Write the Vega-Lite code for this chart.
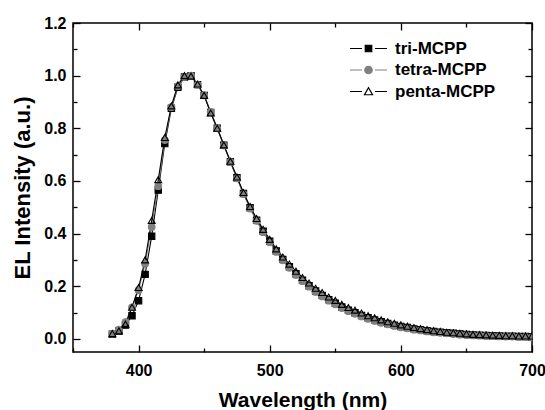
{
  "$schema": "https://vega.github.io/schema/vega-lite/v6.json",
  "width": 459,
  "height": 329,
  "autosize": {"type": "none"},
  "padding": {"left": 73, "top": 23, "right": 13, "bottom": 58},
  "config": {
    "view": {"stroke": "black", "strokeWidth": 1.5},
    "font": "Liberation Sans",
    "axis": {
      "domain": false, "grid": false,
      "labelFont": "Liberation Sans", "labelFontWeight": "bold", "labelFontSize": 16, "labelColor": "black",
      "titleFont": "Liberation Sans", "titleFontWeight": "bold", "titleColor": "black",
      "tickColor": "black", "tickWidth": 1.3
    }
  },
  "data": {"values": [
    {"w":380,"s":"tri-MCPP","v":0.018},{"w":385,"s":"tri-MCPP","v":0.03},{"w":390,"s":"tri-MCPP","v":0.052},{"w":395,"s":"tri-MCPP","v":0.088},{"w":400,"s":"tri-MCPP","v":0.145},{"w":405,"s":"tri-MCPP","v":0.245},{"w":410,"s":"tri-MCPP","v":0.39},{"w":415,"s":"tri-MCPP","v":0.565},{"w":420,"s":"tri-MCPP","v":0.742},{"w":425,"s":"tri-MCPP","v":0.876},{"w":430,"s":"tri-MCPP","v":0.956},{"w":435,"s":"tri-MCPP","v":0.995},{"w":440,"s":"tri-MCPP","v":1.0},{"w":445,"s":"tri-MCPP","v":0.966},{"w":450,"s":"tri-MCPP","v":0.925},{"w":455,"s":"tri-MCPP","v":0.86},{"w":460,"s":"tri-MCPP","v":0.8},{"w":465,"s":"tri-MCPP","v":0.736},{"w":470,"s":"tri-MCPP","v":0.673},{"w":475,"s":"tri-MCPP","v":0.612},{"w":480,"s":"tri-MCPP","v":0.552},{"w":485,"s":"tri-MCPP","v":0.498},{"w":490,"s":"tri-MCPP","v":0.451},{"w":495,"s":"tri-MCPP","v":0.409},{"w":500,"s":"tri-MCPP","v":0.371},{"w":505,"s":"tri-MCPP","v":0.334},{"w":510,"s":"tri-MCPP","v":0.302},{"w":515,"s":"tri-MCPP","v":0.274},{"w":520,"s":"tri-MCPP","v":0.247},{"w":525,"s":"tri-MCPP","v":0.223},{"w":530,"s":"tri-MCPP","v":0.202},{"w":535,"s":"tri-MCPP","v":0.182},{"w":540,"s":"tri-MCPP","v":0.165},{"w":545,"s":"tri-MCPP","v":0.149},{"w":550,"s":"tri-MCPP","v":0.135},{"w":555,"s":"tri-MCPP","v":0.121},{"w":560,"s":"tri-MCPP","v":0.109},{"w":565,"s":"tri-MCPP","v":0.099},{"w":570,"s":"tri-MCPP","v":0.089},{"w":575,"s":"tri-MCPP","v":0.08},{"w":580,"s":"tri-MCPP","v":0.072},{"w":585,"s":"tri-MCPP","v":0.065},{"w":590,"s":"tri-MCPP","v":0.058},{"w":595,"s":"tri-MCPP","v":0.052},{"w":600,"s":"tri-MCPP","v":0.047},{"w":605,"s":"tri-MCPP","v":0.043},{"w":610,"s":"tri-MCPP","v":0.038},{"w":615,"s":"tri-MCPP","v":0.035},{"w":620,"s":"tri-MCPP","v":0.031},{"w":625,"s":"tri-MCPP","v":0.028},{"w":630,"s":"tri-MCPP","v":0.025},{"w":635,"s":"tri-MCPP","v":0.023},{"w":640,"s":"tri-MCPP","v":0.021},{"w":645,"s":"tri-MCPP","v":0.019},{"w":650,"s":"tri-MCPP","v":0.017},{"w":655,"s":"tri-MCPP","v":0.015},{"w":660,"s":"tri-MCPP","v":0.014},{"w":665,"s":"tri-MCPP","v":0.013},{"w":670,"s":"tri-MCPP","v":0.012},{"w":675,"s":"tri-MCPP","v":0.011},{"w":680,"s":"tri-MCPP","v":0.01},{"w":685,"s":"tri-MCPP","v":0.01},{"w":690,"s":"tri-MCPP","v":0.009},{"w":695,"s":"tri-MCPP","v":0.009},{"w":700,"s":"tri-MCPP","v":0.008},
    {"w":380,"s":"tetra-MCPP","v":0.02},{"w":385,"s":"tetra-MCPP","v":0.035},{"w":390,"s":"tetra-MCPP","v":0.064},{"w":395,"s":"tetra-MCPP","v":0.12},{"w":400,"s":"tetra-MCPP","v":0.185},{"w":405,"s":"tetra-MCPP","v":0.285},{"w":410,"s":"tetra-MCPP","v":0.425},{"w":415,"s":"tetra-MCPP","v":0.58},{"w":420,"s":"tetra-MCPP","v":0.755},{"w":425,"s":"tetra-MCPP","v":0.88},{"w":430,"s":"tetra-MCPP","v":0.96},{"w":435,"s":"tetra-MCPP","v":0.995},{"w":440,"s":"tetra-MCPP","v":1.0},{"w":445,"s":"tetra-MCPP","v":0.965},{"w":450,"s":"tetra-MCPP","v":0.925},{"w":455,"s":"tetra-MCPP","v":0.862},{"w":460,"s":"tetra-MCPP","v":0.8},{"w":465,"s":"tetra-MCPP","v":0.735},{"w":470,"s":"tetra-MCPP","v":0.672},{"w":475,"s":"tetra-MCPP","v":0.61},{"w":480,"s":"tetra-MCPP","v":0.55},{"w":485,"s":"tetra-MCPP","v":0.495},{"w":490,"s":"tetra-MCPP","v":0.448},{"w":495,"s":"tetra-MCPP","v":0.405},{"w":500,"s":"tetra-MCPP","v":0.367},{"w":505,"s":"tetra-MCPP","v":0.33},{"w":510,"s":"tetra-MCPP","v":0.298},{"w":515,"s":"tetra-MCPP","v":0.27},{"w":520,"s":"tetra-MCPP","v":0.243},{"w":525,"s":"tetra-MCPP","v":0.219},{"w":530,"s":"tetra-MCPP","v":0.198},{"w":535,"s":"tetra-MCPP","v":0.178},{"w":540,"s":"tetra-MCPP","v":0.161},{"w":545,"s":"tetra-MCPP","v":0.145},{"w":550,"s":"tetra-MCPP","v":0.131},{"w":555,"s":"tetra-MCPP","v":0.117},{"w":560,"s":"tetra-MCPP","v":0.105},{"w":565,"s":"tetra-MCPP","v":0.095},{"w":570,"s":"tetra-MCPP","v":0.085},{"w":575,"s":"tetra-MCPP","v":0.076},{"w":580,"s":"tetra-MCPP","v":0.068},{"w":585,"s":"tetra-MCPP","v":0.061},{"w":590,"s":"tetra-MCPP","v":0.055},{"w":595,"s":"tetra-MCPP","v":0.049},{"w":600,"s":"tetra-MCPP","v":0.044},{"w":605,"s":"tetra-MCPP","v":0.04},{"w":610,"s":"tetra-MCPP","v":0.035},{"w":615,"s":"tetra-MCPP","v":0.032},{"w":620,"s":"tetra-MCPP","v":0.028},{"w":625,"s":"tetra-MCPP","v":0.025},{"w":630,"s":"tetra-MCPP","v":0.023},{"w":635,"s":"tetra-MCPP","v":0.021},{"w":640,"s":"tetra-MCPP","v":0.018},{"w":645,"s":"tetra-MCPP","v":0.016},{"w":650,"s":"tetra-MCPP","v":0.014},{"w":655,"s":"tetra-MCPP","v":0.013},{"w":660,"s":"tetra-MCPP","v":0.012},{"w":665,"s":"tetra-MCPP","v":0.011},{"w":670,"s":"tetra-MCPP","v":0.01},{"w":675,"s":"tetra-MCPP","v":0.009},{"w":680,"s":"tetra-MCPP","v":0.008},{"w":685,"s":"tetra-MCPP","v":0.008},{"w":690,"s":"tetra-MCPP","v":0.007},{"w":695,"s":"tetra-MCPP","v":0.007},{"w":700,"s":"tetra-MCPP","v":0.006},
    {"w":380,"s":"penta-MCPP","v":0.02},{"w":385,"s":"penta-MCPP","v":0.03},{"w":390,"s":"penta-MCPP","v":0.056},{"w":395,"s":"penta-MCPP","v":0.12},{"w":400,"s":"penta-MCPP","v":0.195},{"w":405,"s":"penta-MCPP","v":0.3},{"w":410,"s":"penta-MCPP","v":0.45},{"w":415,"s":"penta-MCPP","v":0.605},{"w":420,"s":"penta-MCPP","v":0.765},{"w":425,"s":"penta-MCPP","v":0.885},{"w":430,"s":"penta-MCPP","v":0.965},{"w":435,"s":"penta-MCPP","v":1.0},{"w":440,"s":"penta-MCPP","v":0.998},{"w":445,"s":"penta-MCPP","v":0.968},{"w":450,"s":"penta-MCPP","v":0.925},{"w":455,"s":"penta-MCPP","v":0.858},{"w":460,"s":"penta-MCPP","v":0.8},{"w":465,"s":"penta-MCPP","v":0.737},{"w":470,"s":"penta-MCPP","v":0.675},{"w":475,"s":"penta-MCPP","v":0.615},{"w":480,"s":"penta-MCPP","v":0.556},{"w":485,"s":"penta-MCPP","v":0.503},{"w":490,"s":"penta-MCPP","v":0.457},{"w":495,"s":"penta-MCPP","v":0.416},{"w":500,"s":"penta-MCPP","v":0.378},{"w":505,"s":"penta-MCPP","v":0.342},{"w":510,"s":"penta-MCPP","v":0.311},{"w":515,"s":"penta-MCPP","v":0.284},{"w":520,"s":"penta-MCPP","v":0.257},{"w":525,"s":"penta-MCPP","v":0.233},{"w":530,"s":"penta-MCPP","v":0.212},{"w":535,"s":"penta-MCPP","v":0.192},{"w":540,"s":"penta-MCPP","v":0.176},{"w":545,"s":"penta-MCPP","v":0.159},{"w":550,"s":"penta-MCPP","v":0.146},{"w":555,"s":"penta-MCPP","v":0.131},{"w":560,"s":"penta-MCPP","v":0.119},{"w":565,"s":"penta-MCPP","v":0.109},{"w":570,"s":"penta-MCPP","v":0.098},{"w":575,"s":"penta-MCPP","v":0.088},{"w":580,"s":"penta-MCPP","v":0.08},{"w":585,"s":"penta-MCPP","v":0.072},{"w":590,"s":"penta-MCPP","v":0.065},{"w":595,"s":"penta-MCPP","v":0.059},{"w":600,"s":"penta-MCPP","v":0.053},{"w":605,"s":"penta-MCPP","v":0.048},{"w":610,"s":"penta-MCPP","v":0.043},{"w":615,"s":"penta-MCPP","v":0.039},{"w":620,"s":"penta-MCPP","v":0.035},{"w":625,"s":"penta-MCPP","v":0.031},{"w":630,"s":"penta-MCPP","v":0.028},{"w":635,"s":"penta-MCPP","v":0.025},{"w":640,"s":"penta-MCPP","v":0.023},{"w":645,"s":"penta-MCPP","v":0.021},{"w":650,"s":"penta-MCPP","v":0.019},{"w":655,"s":"penta-MCPP","v":0.017},{"w":660,"s":"penta-MCPP","v":0.016},{"w":665,"s":"penta-MCPP","v":0.015},{"w":670,"s":"penta-MCPP","v":0.014},{"w":675,"s":"penta-MCPP","v":0.013},{"w":680,"s":"penta-MCPP","v":0.012},{"w":685,"s":"penta-MCPP","v":0.012},{"w":690,"s":"penta-MCPP","v":0.011},{"w":695,"s":"penta-MCPP","v":0.011},{"w":700,"s":"penta-MCPP","v":0.011}
  ]},
  "resolve": {
    "axis": {"x": "independent", "y": "independent"},
    "scale": {"shape": "independent", "fill": "independent", "stroke": "independent"}
  },
  "layer": [
    {
      "mark": {"type": "line", "strokeWidth": 1.1, "clip": true},
      "encoding": {
        "x": {"field": "w", "type": "quantitative", "scale": {"domain": [350, 700], "nice": false, "zero": false},
          "axis": {"orient": "bottom", "title": "Wavelength (nm)", "titleFontSize": 21, "values": [350, 400, 450, 500, 550, 600, 650, 700],
            "labelExpr": "datum.value % 100 === 0 ? datum.label : ''",
            "tickSize": {"condition": {"test": "datum.value % 100 === 0", "value": -7}, "value": -4},
            "labelPadding": 17, "titlePadding": 11, "labelFlush": false}},
        "y": {"field": "v", "type": "quantitative", "scale": {"domain": [-0.05, 1.2], "nice": false, "zero": false},
          "axis": {"orient": "left", "title": "EL Intensity (a.u.)", "titleFontSize": 22, "values": [0, 0.1, 0.2, 0.3, 0.4, 0.5, 0.6, 0.7, 0.8, 0.9, 1.0, 1.1, 1.2],
            "format": ".1f",
            "labelExpr": "round(datum.value * 10) % 2 === 0 ? datum.label : ''",
            "tickSize": {"condition": {"test": "round(datum.value * 10) % 2 === 0", "value": -7}, "value": -4},
            "labelPadding": 14, "titlePadding": 9, "labelFlush": false}},
        "color": {"field": "s", "type": "nominal",
          "scale": {"domain": ["tri-MCPP", "tetra-MCPP", "penta-MCPP"], "range": ["#000000", "#808080", "#000000"]},
          "legend": null}
      }
    },
    {
      "mark": {"type": "point", "filled": false, "clip": true, "opacity": 1},
      "encoding": {
        "x": {"field": "w", "type": "quantitative",
          "axis": {"orient": "top", "title": null, "labels": false, "values": [350, 400, 450, 500, 550, 600, 650, 700],
            "tickSize": {"condition": {"test": "datum.value % 100 === 0", "value": -7}, "value": -4}}},
        "y": {"field": "v", "type": "quantitative",
          "axis": {"orient": "right", "title": null, "labels": false, "values": [0, 0.1, 0.2, 0.3, 0.4, 0.5, 0.6, 0.7, 0.8, 0.9, 1.0, 1.1, 1.2],
            "tickSize": {"condition": {"test": "round(datum.value * 10) % 2 === 0", "value": -7}, "value": -4}}},
        "shape": {"field": "s", "type": "nominal", "scale": {"domain": ["tri-MCPP", "tetra-MCPP", "penta-MCPP"], "range": ["square", "circle", "triangle-up"]}, "legend": null},
        "fill": {"field": "s", "type": "nominal", "scale": {"domain": ["tri-MCPP", "tetra-MCPP", "penta-MCPP"], "range": ["#000000", "#808080", "transparent"]}, "legend": null},
        "stroke": {"field": "s", "type": "nominal", "scale": {"domain": ["tri-MCPP", "tetra-MCPP", "penta-MCPP"], "range": ["#000000", "#808080", "#000000"]}, "legend": null},
        "size": {"field": "s", "type": "nominal", "scale": {"domain": ["tri-MCPP", "tetra-MCPP", "penta-MCPP"], "range": [40, 48, 80]}, "legend": null},
        "strokeWidth": {"value": 1.1}
      }
    },
    {
      "transform": [{"filter": "datum.w < 0"}],
      "mark": {"type": "point", "filled": true, "size": 100, "strokeWidth": 1.2, "opacity": 1},
      "encoding": {
        "shape": {"field": "s", "type": "nominal",
          "scale": {"domain": ["tri-MCPP", "tetra-MCPP", "penta-MCPP"],
            "range": [
              "M-3.7,0H-1.3M1.3,0H3.7M-0.65,-0.65H0.65V0.65H-0.65Z",
              "M-3.7,0H-1.3M1.3,0H3.7M0.75,0A0.75,0.75,0,1,1,-0.75,0A0.75,0.75,0,1,1,0.75,0Z",
              "M-3.7,0H-1.3M1.3,0H3.7M-0.8,0.65L0.8,0.65L0,-0.75Z"
            ]},
          "legend": {
            "title": null, "orient": "none", "legendX": 287, "legendY": 17, "padding": 0,
            "labelFont": "Liberation Sans", "labelFontWeight": "bold", "labelFontSize": 17, "labelColor": "black",
            "symbolSize": 100, "labelOffset": 18, "rowPadding": 3.5, "symbolStrokeWidth": 1.2, "symbolOpacity": 1
          }},
        "fill": {"field": "s", "type": "nominal",
          "scale": {"domain": ["tri-MCPP", "tetra-MCPP", "penta-MCPP"], "range": ["#000000", "#808080", "#ffffff"]},
          "legend": {"title": null}},
        "stroke": {"field": "s", "type": "nominal",
          "scale": {"domain": ["tri-MCPP", "tetra-MCPP", "penta-MCPP"], "range": ["#000000", "#808080", "#000000"]},
          "legend": {"title": null}}
      }
    }
  ]
}
